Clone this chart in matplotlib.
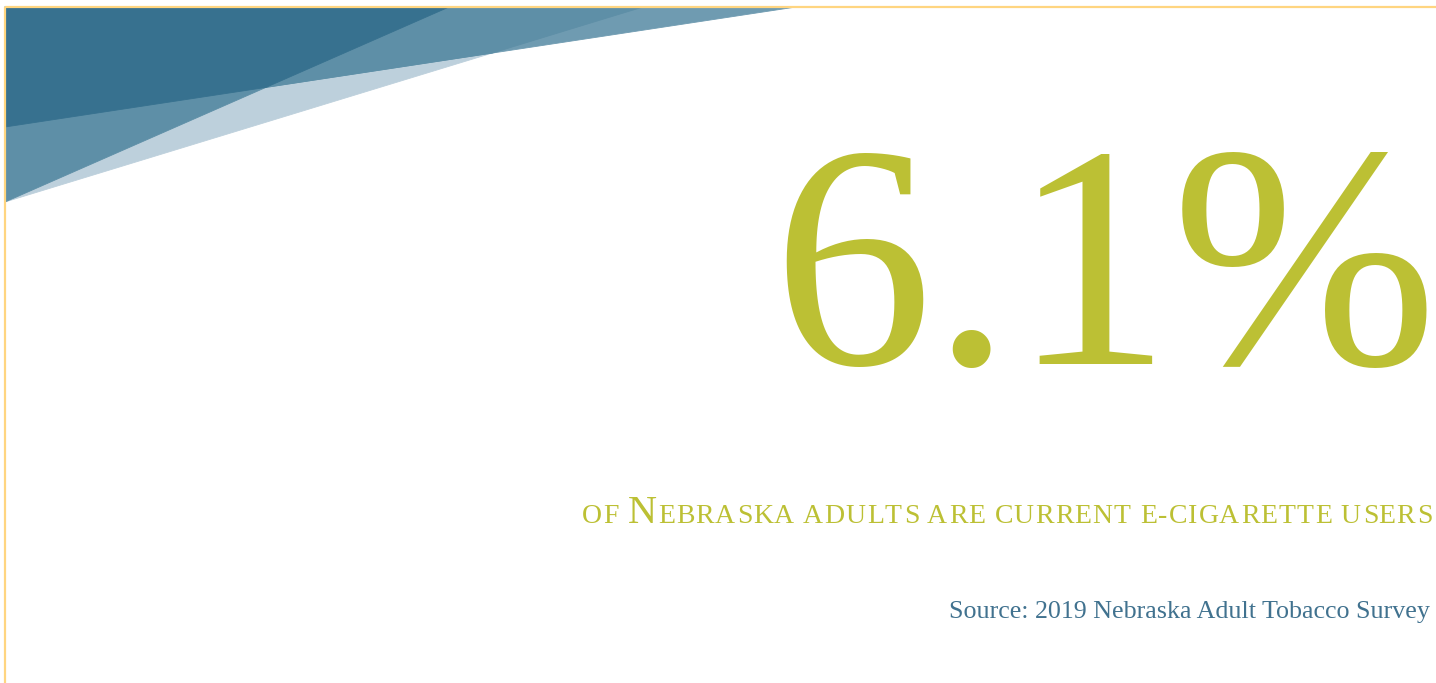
import matplotlib
matplotlib.use("Agg")
import matplotlib.pyplot as plt
from matplotlib.patches import Polygon
from matplotlib.font_manager import findfont, FontProperties
from matplotlib.ft2font import FT2Font

# ---- content ----
value = 6.1
value_label = f"{value}%"
subtitle_parts = ["OF ", "N", "EBRASKA ADULTS ARE CURRENT E-CIGARETTE USERS"]
subtitle_big = [False, True, False]
source_text = "Source: 2019 Nebraska Adult Tobacco Survey"

# ---- style ----
W, H = 1436, 683
GREEN = "#BCC034"
BLUE_TXT = "#41728F"
BORDER = "#FFD580"
DARK = "#37718F"
MED = "#5E8FA7"
MED2 = "#6F9BB1"
LIGHT = "#BDD0DC"
SERIF = ["Liberation Serif", "DejaVu Serif"]
DPI = 100

fig = plt.figure(figsize=(W / DPI, H / DPI), dpi=DPI)
ax = fig.add_axes([0, 0, 1, 1])
ax.set_xlim(0, W)
ax.set_ylim(H, 0)
ax.axis("off")

# ---- decorative corner triangles ----
x0, ytop = 5, 7
yL1, yL2 = 202, 127
xL1, xL2, xL3 = 449, 796, 643


def intersect(p1, p2, p3, p4):
    (x1, y1), (x2, y2), (x3, y3), (x4, y4) = p1, p2, p3, p4
    d = (x1 - x2) * (y3 - y4) - (y1 - y2) * (x3 - x4)
    t = ((x1 - x3) * (y3 - y4) - (y1 - y3) * (x3 - x4)) / d
    return (x1 + t * (x2 - x1), y1 + t * (y2 - y1))


A = (x0, yL1)
B = (x0, yL2)
TL = (x0, ytop)
P12 = intersect(A, (xL1, ytop), B, (xL2, ytop))
P23 = intersect(B, (xL2, ytop), A, (xL3, ytop))

polys = [
    ([TL, A, (xL3, ytop)], LIGHT),
    ([TL, B, (xL2, ytop)], MED2),
    ([TL, B, P23, (xL3, ytop)], MED),
    ([TL, A, (xL1, ytop)], MED),
    ([TL, B, P12, (xL1, ytop)], DARK),
]
for pts, c in polys:
    ax.add_patch(Polygon(pts, closed=True, facecolor=c, edgecolor=c, lw=0.6))

# ---- border lines ----
ax.plot([x0, x0], [ytop - 0.5, H], color=BORDER, lw=1.6, solid_capstyle="butt")
ax.plot([x0, W], [ytop - 0.5, ytop - 0.5], color=BORDER, lw=1.6, solid_capstyle="butt")

# ---- big number ----
ax.text(1438, 364, value_label, fontsize=230, color=GREEN, family=SERIF,
        ha="right", va="baseline")

# ---- subtitle in small caps with slight letter tracking ----
font_path = findfont(FontProperties(family=SERIF))


def glyph_metrics(ch, size_pt):
    f = FT2Font(font_path)
    f.set_size(size_pt, DPI)
    g = f.load_char(ord(ch))
    return g.linearHoriAdvance / 65536.0, g.horiBearingX / 64.0


small_pt, big_pt = 20.0, 29.0
chars = []
for part, big in zip(subtitle_parts, subtitle_big):
    for ch in part:
        chars.append((ch, big_pt if big else small_pt))

natural = sum(glyph_metrics(c, s)[0] for c, s in chars)
target_width = 850.0
tracking = max(0.0, (target_width - natural) / (len(chars) - 1))

x = 581.0
for ch, s in chars:
    adv, lsb = glyph_metrics(ch, s)
    if ch != " ":
        ax.text(x + lsb, 523, ch, fontsize=s, color=GREEN, family=SERIF,
                ha="left", va="baseline")
    x += adv + tracking

# ---- source ----
ax.text(1430, 618, source_text, fontsize=18.7, color=BLUE_TXT, family=SERIF,
        ha="right", va="baseline")

fig.savefig("out.png", dpi=DPI)
